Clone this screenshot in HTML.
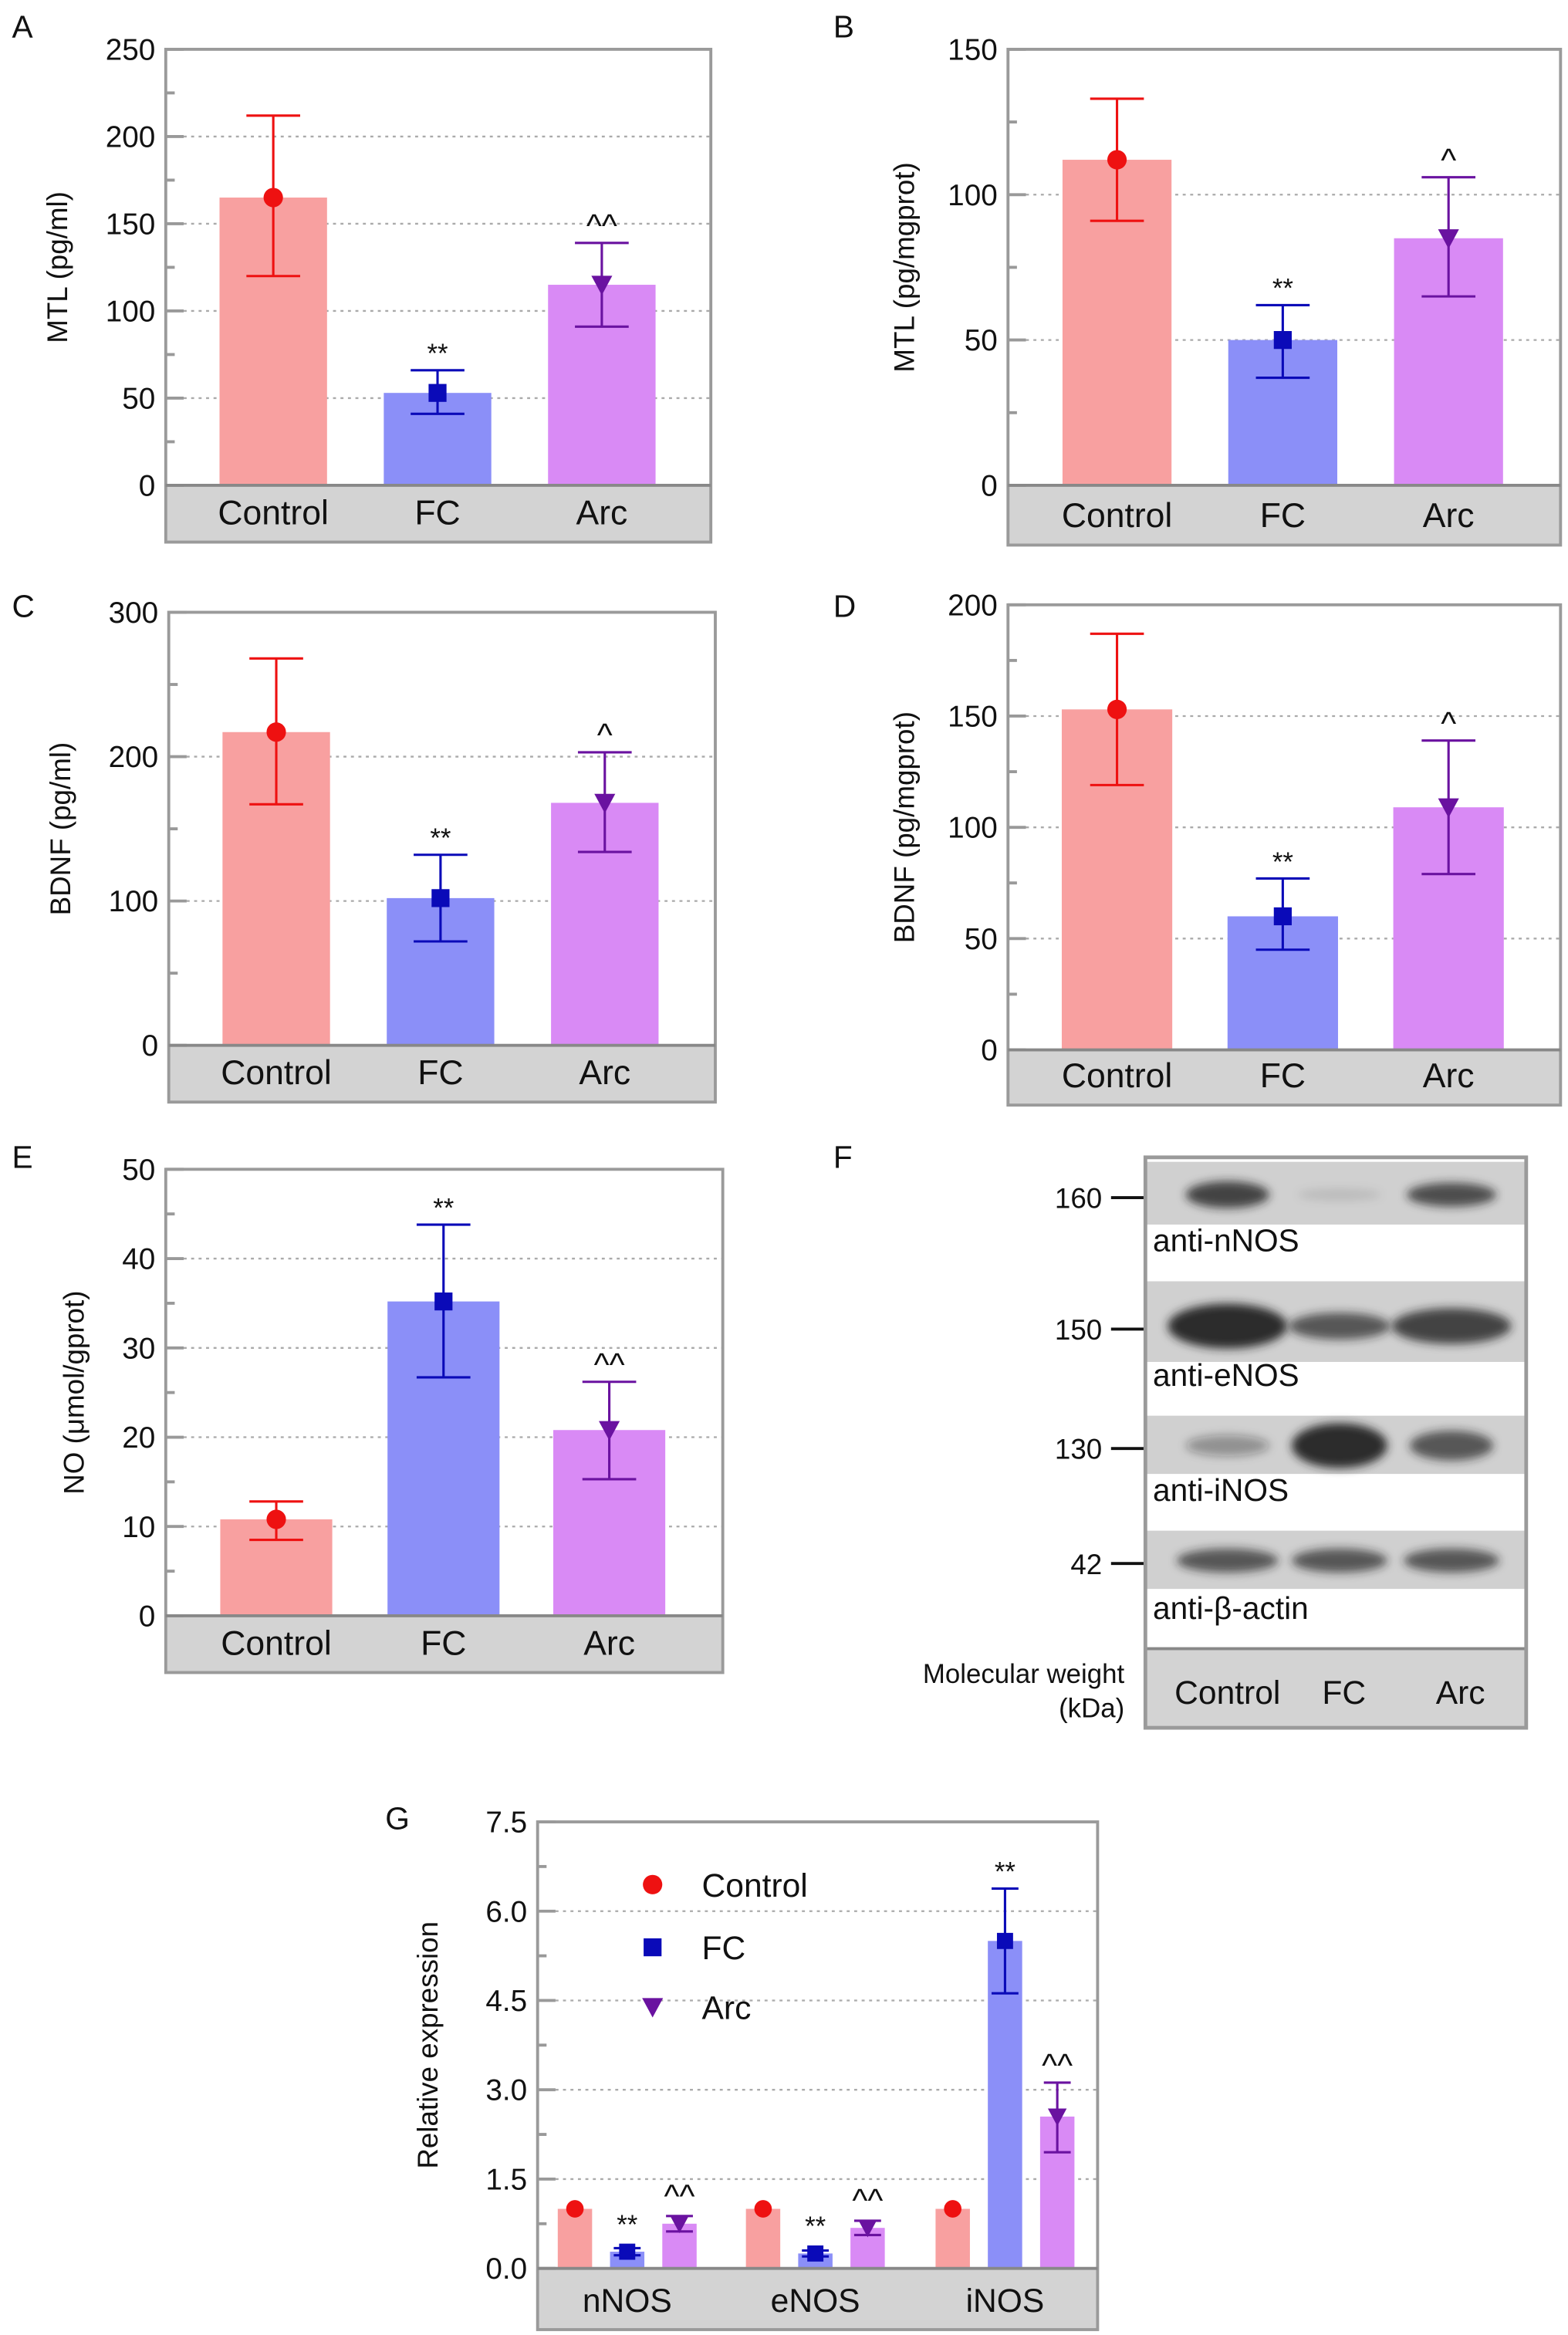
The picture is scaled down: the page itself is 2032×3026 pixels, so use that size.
<!DOCTYPE html>
<html><head><meta charset="utf-8">
<style>
html,body{margin:0;padding:0;background:#fff;}
svg{display:block;font-family:"Liberation Sans",Arial,sans-serif;}
</style></head>
<body>
<svg id="fig" width="2032" height="3026" viewBox="0 0 1050 1563.6" xmlns="http://www.w3.org/2000/svg">
<defs>
<filter id="blur" x="-30%" y="-60%" width="160%" height="220%"><feGaussianBlur stdDeviation="3"/></filter>
</defs>
</svg>
<script>
const groups = ["Control","FC","Arc"];
const aVals=[165,53,115], aLo=[120,41,91], aHi=[212,66,139], aAnn=["","**","^^"];
const bVals=[112,50,85], bLo=[91,37,65], bHi=[133,62,106], bAnn=["","**","^"];
const cVals=[217,102,168], cLo=[167,72,134], cHi=[268,132,203], cAnn=["","**","^"];
const dVals=[153,60,109], dLo=[119,45,79], dHi=[187,77,139], dAnn=["","**","^"];
const eVals=[10.8,35.2,20.8], eLo=[8.5,26.7,15.3], eHi=[12.8,43.8,26.2], eAnn=["","**","^^"];
const aTicks=[0,50,100,150,200,250], bTicks=[0,50,100,150], cTicks=[0,100,200,300], dTicks=[0,50,100,150,200], eTicks=[0,10,20,30,40,50];
const gCats=["nNOS","eNOS","iNOS"];
const gControl=[1,1,1], gFC=[0.28,0.25,5.5], gArc=[0.75,0.68,2.55];
const gFCLo=[0.22,0.2,4.62], gFCHi=[0.34,0.3,6.38], gArcLo=[0.62,0.56,1.95], gArcHi=[0.88,0.8,3.12];
const gFCAnn=["**","**","**"], gArcAnn=["^^","^^","^^"];
const gTicks=[0,1.5,3.0,4.5,6.0,7.5];

const svg=document.getElementById('fig');
const NS="http://www.w3.org/2000/svg";
function el(tag,attrs,parent){const e=document.createElementNS(NS,tag);for(const k in attrs)e.setAttribute(k,attrs[k]);(parent||svg).appendChild(e);return e;}
function txt(s,x,y,size,anchor,parent,fill){const t=el('text',{x:x,y:y,'font-size':size,'text-anchor':anchor||'middle',fill:fill||'#111'},parent);t.textContent=s;return t;}
const barCol=["#f8a0a0","#8b8ff8","#d98af5"], ptCol=["#ee1111","#0a0ab8","#6a12a0"];

function marker(kind,x,y,col,g,s){
  s=s||1;
  if(kind===0) return el('circle',{cx:x,cy:y,r:6.5*s,fill:col},g);
  if(kind===1) return el('rect',{x:x-6*s,y:y-6*s,width:12*s,height:12*s,fill:col},g);
  return el('polygon',{points:`${x-7*s},${y-6*s} ${x+7*s},${y-6*s} ${x},${y+7*s}`,fill:col},g);
}
function errbar(x,yLo,yHi,col,g,cap){
  el('line',{x1:x,x2:x,y1:yLo,y2:yHi,stroke:col,'stroke-width':1.6},g);
  el('line',{x1:x-cap,x2:x+cap,y1:yLo,y2:yLo,stroke:col,'stroke-width':1.6},g);
  el('line',{x1:x-cap,x2:x+cap,y1:yHi,y2:yHi,stroke:col,'stroke-width':1.6},g);
}
function annY(a,cap){return a[0]==='*'?cap-5:cap-4;}
function frame(g,L,R,T,zero,B,ticks,yTopV,ylabel,ylx,cats,catX,catSize,dec){
  const sy=v=>zero-(v/yTopV)*(zero-T);
  el('rect',{x:L,y:zero,width:R-L,height:B-zero,fill:'#d3d3d3'},g);
  const step=ticks[1]-ticks[0];
  ticks.forEach((t,i)=>{
    const y=sy(t);
    if(i>0&&i<ticks.length-1) el('line',{x1:L+12,x2:R,y1:y,y2:y,stroke:'#aaa','stroke-width':1.2,'stroke-dasharray':'2,3'},g);
    el('line',{x1:L,x2:L+12,y1:y,y2:y,stroke:'#999','stroke-width':2},g);
    const lab=txt(dec?t.toFixed(1):String(t),L-7,y+7,20,'end',g);
    
    
    if(i<ticks.length-1){const ym=sy(t+step/2);el('line',{x1:L,x2:L+6,y1:ym,y2:ym,stroke:'#999','stroke-width':2},g);}
  });
  cats.forEach((c,i)=>{const t=txt(c,catX[i],B-12,catSize||22,'middle',g);
    
    });
  const yl=txt(ylabel,0,0,19,'middle',g);
  yl.setAttribute('transform',`translate(${ylx},${(T+zero)/2}) rotate(-90)`);
  
  
  return sy;
}
function panel(name,letter,lx,ly,L,R,T,zero,B,ticks,ylabel,ylx,barX,bw,vals,lo,hi,ann){
  const g=el('g',{});
  
  
  const lt=txt(letter,lx,ly,21,'start',g);
  
  
  const sy=frame(g,L,R,T,zero,B,ticks,ticks[ticks.length-1],ylabel,ylx,groups,barX,23,false);
  vals.forEach((v,i)=>{
    const r=el('rect',{x:barX[i]-bw/2,y:sy(v),width:bw,height:zero-sy(v),fill:barCol[i]},g);
    
    
    errbar(barX[i],sy(lo[i]),sy(hi[i]),ptCol[i],g,18);
    marker(i,barX[i],sy(v),ptCol[i],g);
    if(ann[i]){const a=txt(ann[i],barX[i],annY(ann[i],sy(hi[i])),ann[i][0]==='*'?18:22,'middle',g);
      
      }
  });
  el('rect',{x:L,y:T,width:R-L,height:B-T,fill:'none',stroke:'#9a9a9a','stroke-width':2},g);
  el('line',{x1:L,x2:R,y1:zero,y2:zero,stroke:'#888','stroke-width':2},g);
}
panel('panel-a-mtl-serum','A',8,25,111,476,33,325,363,aTicks,'MTL (pg/ml)',45,[183,293,403],72,aVals,aLo,aHi,aAnn);
panel('panel-b-mtl-tissue','B',558,25,675,1045,33,325,365,bTicks,'MTL (pg/mgprot)',612,[748,859,970],73,bVals,bLo,bHi,bAnn);
panel('panel-c-bdnf-serum','C',8,413,113,479,410,700,738,cTicks,'BDNF (pg/ml)',47,[185,295,405],72,cVals,cLo,cHi,cAnn);
panel('panel-d-bdnf-tissue','D',558,413,675,1045,405,703,740,dTicks,'BDNF (pg/mgprot)',612,[748,859,970],74,dVals,dLo,dHi,dAnn);
panel('panel-e-no','E',8,782,111,484,783,1082,1120,eTicks,'NO (μmol/gprot)',56,[185,297,408],75,eVals,eLo,eHi,eAnn);

(function(){
  const g=el('g',{});
  
  
  const lt=txt('F',558,782,21,'start',g);
  
  
  const L=767,R=1022,T=775,B=1157;
  el('rect',{x:L,y:T,width:R-L,height:B-T,fill:'#fff'},g);
  const bands=[[778,820],[858,912],[948,987],[1025,1064]];
  const mw=["160","150","130","42"], mwY=[802,890,970,1047];
  const labels=["anti-nNOS","anti-eNOS","anti-iNOS","anti-β-actin"], labY=[838,928,1005,1084];
  const lanes=[822,897,972];
  const inten=[[0.8,0.1,0.75],[0.95,0.7,0.8],[0.35,0.95,0.7],[0.7,0.7,0.7]];
  const widths=[[28,28,30],[40,34,40],[28,32,28],[34,32,32]];
  const hts=[[9,4,8],[15,9,12],[7,15,10],[8,8,8]];
  bands.forEach((b,i)=>{
    el('rect',{x:L,y:b[0],width:R-L,height:b[1]-b[0],fill:'#d0d0d0'},g);
    const cy=mwY[i];
    lanes.forEach((x,j)=>{
      const e=el('ellipse',{cx:x,cy:cy-2,rx:widths[i][j],ry:hts[i][j],fill:'#222','fill-opacity':inten[i][j],filter:'url(#blur)'},g);
      
      
    });
    el('line',{x1:744,x2:767,y1:cy,y2:cy,stroke:'#111','stroke-width':2},g);
    const m=txt(mw[i],738,cy+7,19,'end',g);
    
    
    const a=txt(labels[i],772,labY[i],21,'start',g);
    
    
  });
  el('rect',{x:L,y:1104,width:R-L,height:B-1104,fill:'#d3d3d3'},g);
  el('line',{x1:L,x2:R,y1:1104,y2:1104,stroke:'#888','stroke-width':2},g);
  [['Control',822],['FC',900],['Arc',978]].forEach(c=>{const t=txt(c[0],c[1],1141,22,'middle',g);
    
    });
  const m1=txt('Molecular weight',753,1127,18,'end',g);
  
  
  txt('(kDa)',753,1150,18,'end',g);
  el('rect',{x:L,y:T,width:R-L,height:B-T,fill:'none',stroke:'#9a9a9a','stroke-width':2.5},g);
})();

(function(){
  const g=el('g',{});
  
  
  const lt=txt('G',258,1225,21,'start',g);
  
  
  const L=360,R=735,T=1220,zero=1519,B=1560;
  const centers=[420,546,673], off=35, bw=23;
  const sy=frame(g,L,R,T,zero,B,gTicks,7.5,'Relative expression',293,gCats,centers,22,true);
  const series=[gControl,gFC,gArc], los=[gControl,gFCLo,gArcLo], his=[gControl,gFCHi,gArcHi], anns=[null,gFCAnn,gArcAnn];
  gCats.forEach((c,i)=>{
    series.forEach((s,j)=>{
      const x=centers[i]+(j-1)*off, v=s[i];
      const r=el('rect',{x:x-bw/2,y:sy(v),width:bw,height:zero-sy(v),fill:barCol[j]},g);
      
      
      if(j>0){errbar(x,sy(los[j][i]),sy(his[j][i]),ptCol[j],g,9);}
      marker(j,x,sy(v),ptCol[j],g,0.9);
      if(anns[j]){const a=anns[j][i];const top=Math.min(sy(his[j][i]),sy(v)-7);
        const t=txt(a,x,annY(a,top),a[0]==='*'?18:22,'middle',g);
        
        }
    });
  });
  const leg=el('g',{},g);
  
  
  [1262,1304,1344].forEach((y,j)=>{
    marker(j,437,y,ptCol[j],leg,1);
    const t=txt(groups[j],470,y+8,22,'start',leg);
    
    
  });
  el('rect',{x:L,y:T,width:R-L,height:B-T,fill:'none',stroke:'#9a9a9a','stroke-width':2},g);
  el('line',{x1:L,x2:R,y1:zero,y2:zero,stroke:'#888','stroke-width':2},g);
})();
</script>
</body></html>
